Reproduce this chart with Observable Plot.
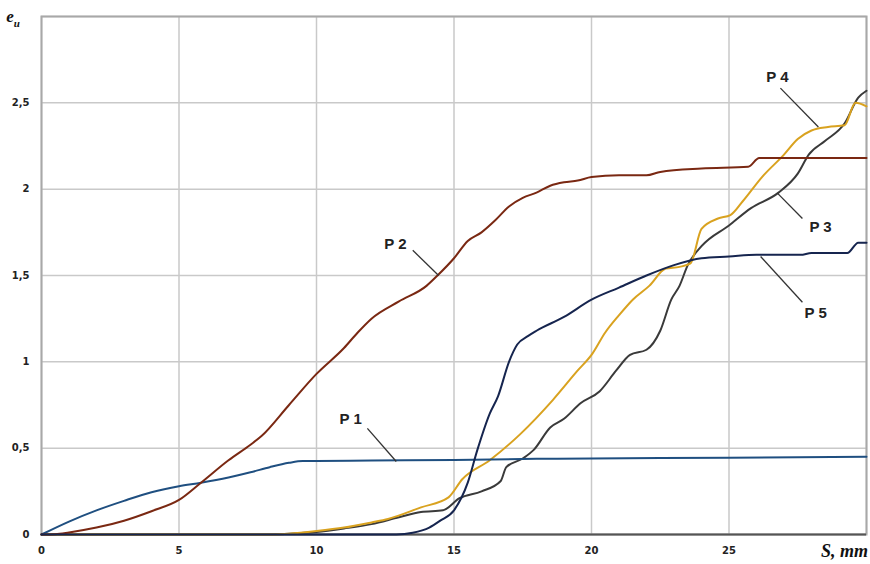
<!DOCTYPE html>
<html>
<head>
<meta charset="utf-8">
<script src="https://cdn.jsdelivr.net/npm/d3@7"></script>
<script src="https://cdn.jsdelivr.net/npm/@observablehq/plot@0.6"></script>
<style>
  html, body { margin: 0; padding: 0; background: #fff; }
  #chart { width: 870px; height: 564px; }
</style>
</head>
<body>
<div id="chart"></div>
<script>
// ---- data ----
const p1X = [0, 1, 2, 3, 4, 5, 5.8, 6.8, 7.6, 8.3, 9, 9.5, 10, 12, 15, 18, 20, 25, 30];
const p1Y = [0, 0.075, 0.14, 0.195, 0.245, 0.28, 0.30, 0.33, 0.36, 0.39, 0.415, 0.425, 0.425, 0.428, 0.432, 0.438, 0.44, 0.445, 0.45];

const p2X = [0, 0.5, 1, 2, 3, 4, 5, 5.8, 6.8, 7.6, 8, 9, 10, 11, 11.5, 12, 13, 14, 14.4, 15, 15.5, 16, 16.5, 17, 17.5, 18, 18.5, 19, 19.5, 20, 21, 22, 22.5, 24, 25.7, 26.1, 27, 30];
const p2Y = [0, 0.002, 0.012, 0.04, 0.08, 0.135, 0.2, 0.3, 0.43, 0.52, 0.57, 0.75, 0.93, 1.08, 1.17, 1.25, 1.35, 1.44, 1.5, 1.6, 1.7, 1.75, 1.82, 1.9, 1.95, 1.98, 2.02, 2.04, 2.05, 2.07, 2.08, 2.08, 2.1, 2.12, 2.13, 2.18, 2.18, 2.18];

const p3X = [0, 8, 9, 10, 11, 12, 13, 13.8, 14.6, 15.2, 16, 16.7, 16.9, 17.5, 17.9, 18.5, 19, 19.6, 20.3, 20.9, 21.4, 22, 22.5, 22.9, 23.2, 23.5, 24, 25, 25.8, 26.8, 27.5, 27.9, 28.5, 29.2, 29.7, 30];
const p3Y = [0, 0, 0.005, 0.015, 0.035, 0.06, 0.1, 0.13, 0.14, 0.21, 0.25, 0.31, 0.39, 0.44, 0.49, 0.62, 0.67, 0.76, 0.83, 0.95, 1.04, 1.07, 1.18, 1.36, 1.44, 1.56, 1.67, 1.79, 1.89, 1.98, 2.09, 2.2, 2.28, 2.38, 2.53, 2.57];

const p4X = [0, 8, 9, 10, 11, 12, 12.6, 13.8, 14.8, 15.3, 16.3, 17.4, 18.6, 19.5, 20, 20.5, 21, 21.5, 22.1, 22.7, 23.2, 23.6, 24, 24.6, 25.05, 25.5, 26.2, 27, 27.5, 28, 28.6, 29.2, 29.6, 30];
const p4Y = [0, 0, 0.005, 0.02, 0.04, 0.07, 0.09, 0.157, 0.215, 0.32, 0.43, 0.58, 0.78, 0.95, 1.04, 1.17, 1.27, 1.36, 1.44, 1.54, 1.55, 1.57, 1.77, 1.83, 1.85, 1.93, 2.07, 2.2, 2.29, 2.34, 2.36, 2.37, 2.5, 2.48];

const p5X = [0, 12.9, 13.5, 14.1, 14.5, 15, 15.5, 15.85, 16.3, 16.6, 17, 17.3, 17.7, 18, 19, 20, 21, 22, 23, 24, 25, 26, 27.6, 28, 29.3, 29.7, 30];
const p5Y = [0, 0, 0.01, 0.04, 0.08, 0.14, 0.3, 0.49, 0.7, 0.8, 1.0, 1.1, 1.15, 1.18, 1.26, 1.36, 1.43, 1.5, 1.56, 1.6, 1.61, 1.62, 1.62, 1.63, 1.63, 1.69, 1.69];

const seriesNames = ["P 3", "P 4", "P 1", "P 2", "P 5"];
const seriesColors = ["#3a3a3a", "#d9a21f", "#1f4f80", "#7a2812", "#16254f"];

// curve labels and leader lines (data coordinates)
const labelNames = ["P 1", "P 2", "P 3", "P 4", "P 5"];
const labelX = [11.24, 12.87, 28.33, 26.76, 28.15];
const labelY = [0.667, 1.68, 1.78, 2.65, 1.28];
const leaderX1 = [11.85, 13.5, 26.76, 26.87, 26.15];
const leaderY1 = [0.615, 1.646, 1.977, 2.585, 1.61];
const leaderX2 = [12.9, 14.44, 27.67, 28.25, 27.67];
const leaderY2 = [0.423, 1.50, 1.83, 2.36, 1.345];

const xTicks = [0, 5, 10, 15, 20, 25, 30];
const xTickLabels = [0, 5, 10, 15, 20, 25];
const yTicks = [0, 0.5, 1, 1.5, 2, 2.5, 3];
const yTickLabels = [0, 0.5, 1, 1.5, 2, 2.5];

// ---- build tidy rows ----
const seriesData = {
  "P 1": [p1X, p1Y], "P 2": [p2X, p2Y], "P 3": [p3X, p3Y], "P 4": [p4X, p4Y], "P 5": [p5X, p5Y]
};
const rows = [];
for (const s of seriesNames) {
  const [xs, ys] = seriesData[s];
  xs.forEach((x, i) => rows.push({s, x, y: ys[i]}));
}
const labels = labelNames.map((t, i) => ({t, x: labelX[i], y: labelY[i], x1: leaderX1[i], y1: leaderY1[i], x2: leaderX2[i], y2: leaderY2[i]}));
const comma = d => String(d).replace(".", ",");

const chart = Plot.plot({
  width: 870,
  height: 564,
  marginLeft: 41,
  marginRight: 4,
  marginTop: 16,
  marginBottom: 30,
  style: {background: "#fff", fontFamily: "DejaVu Sans", overflow: "visible"},
  x: {domain: [0, 30], axis: null},
  y: {domain: [0, 3], axis: null},
  color: {domain: seriesNames, range: seriesColors},
  marks: [
    Plot.ruleX(xTicks, {stroke: "#c9c9c9", strokeWidth: 1.5}),
    Plot.ruleY(yTicks, {stroke: "#c9c9c9", strokeWidth: 1.5}),
    Plot.frame({stroke: "#a8a8a8", strokeWidth: 2}),
    Plot.ruleY([0], {stroke: "#555", strokeWidth: 2}),
    Plot.axisX({ticks: xTickLabels, tickSize: 0, tickPadding: 12, tickFormat: comma,
      fontSize: 10, fontWeight: "bold", fill: "#222"}),
    Plot.axisY({ticks: yTickLabels, tickSize: 0, tickPadding: 12, tickFormat: comma,
      fontSize: 10, fontWeight: "bold", fill: "#222"}),
    Plot.line(rows, {x: "x", y: "y", z: "s", stroke: "s", strokeWidth: 2, curve: "monotone-x"}),
    Plot.link(labels, {x1: "x1", y1: "y1", x2: "x2", y2: "y2", stroke: "#333", strokeWidth: 1.3}),
    Plot.text(labels, {x: "x", y: "y", text: "t", fontSize: 15, fontWeight: "bold",
      fontFamily: "Liberation Sans", fill: "#222", textAnchor: "middle", lineAnchor: "middle"})
  ]
});

const svg = d3.select(chart);
// y-axis title e_u
const yt = svg.append("text")
  .attr("x", 13).attr("y", 22)
  .attr("font-family", "Liberation Serif")
  .attr("font-style", "italic").attr("font-weight", "bold")
  .attr("font-size", 17).attr("fill", "#111");
yt.append("tspan").text("e");
yt.append("tspan").attr("dy", 5).attr("font-size", 11).text("u");
// x-axis title
svg.append("text")
  .attr("x", 868).attr("y", 557)
  .attr("text-anchor", "end")
  .attr("font-family", "Liberation Serif")
  .attr("font-style", "italic").attr("font-weight", "bold")
  .attr("font-size", 18).attr("fill", "#111")
  .text("S, mm");

document.getElementById("chart").appendChild(chart);
</script>
</body>
</html>
